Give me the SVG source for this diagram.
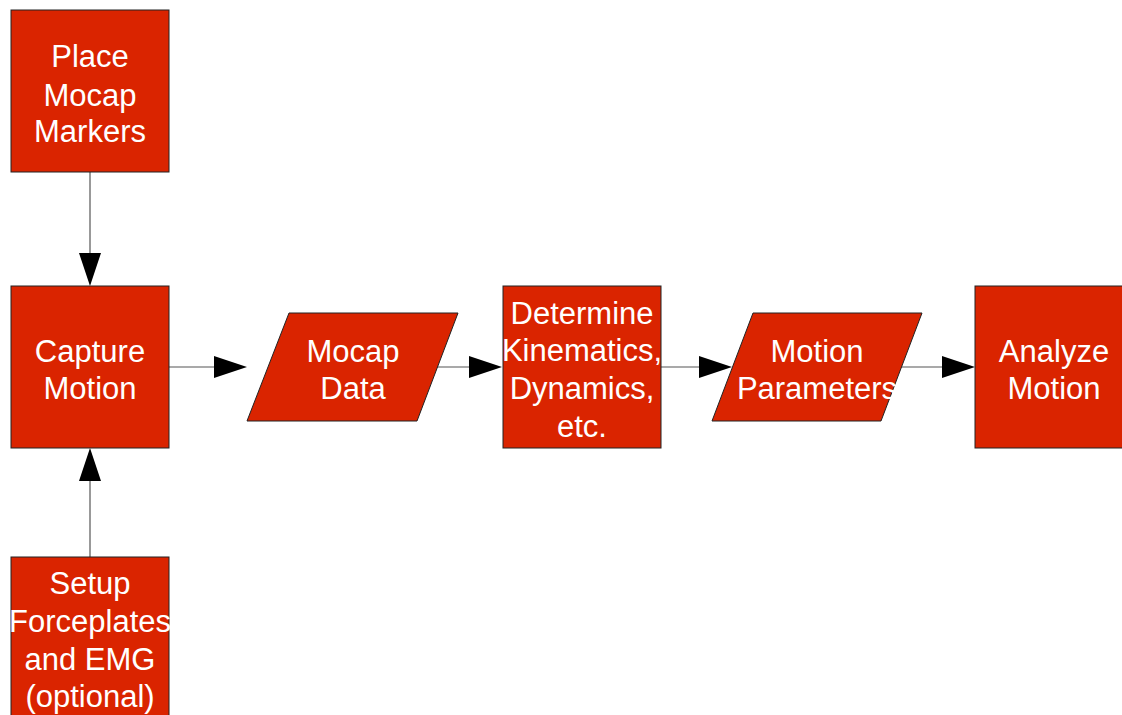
<svg xmlns="http://www.w3.org/2000/svg" width="1122" height="715" viewBox="0 0 1122 715">
<style>
.n{fill:#da2400;stroke:#222;stroke-width:1}
.t{fill:#fff;font-family:"Liberation Sans",Arial,sans-serif;font-size:31px;text-anchor:middle}
.c{stroke:#555;stroke-width:1.2;fill:none}
.h{fill:#000}
</style>
<rect width="1122" height="715" fill="#fff"/>
<g id="connectors">
<line class="c" x1="90" y1="172" x2="90" y2="254"/>
<polygon class="h" points="79,253 101,253 90,286"/>
<line class="c" x1="169" y1="367" x2="215" y2="367"/>
<polygon class="h" points="214,356 214,378 247,367"/>
<line class="c" x1="437" y1="367" x2="470" y2="367"/>
<polygon class="h" points="469,356 469,378 502,367"/>
<line class="c" x1="661" y1="367" x2="700" y2="367"/>
<polygon class="h" points="699,356 699,378 732,367"/>
<line class="c" x1="901" y1="367" x2="943" y2="367"/>
<polygon class="h" points="942,356 942,378 975,367"/>
<line class="c" x1="90" y1="557" x2="90" y2="480"/>
<polygon class="h" points="79,481 101,481 90,448"/>
</g>
<g id="place">
<rect class="n" x="11" y="10" width="158" height="162"/>
<text class="t"><tspan x="90" y="67">Place</tspan><tspan x="90" y="106">Mocap</tspan><tspan x="90" y="142">Markers</tspan></text>
</g>
<g id="capture">
<rect class="n" x="11" y="286" width="158" height="162"/>
<text class="t"><tspan x="90" y="362">Capture</tspan><tspan x="90" y="399">Motion</tspan></text>
</g>
<g id="setup">
<rect class="n" x="11" y="557" width="158" height="162"/>
<text class="t"><tspan x="90" y="594">Setup</tspan><tspan x="90" y="632">Forceplates</tspan><tspan x="90" y="670">and EMG</tspan><tspan x="90" y="707">(optional)</tspan></text>
</g>
<g id="mocapdata">
<polygon class="n" points="289,313 458,313 417,421 247,421"/>
<text class="t"><tspan x="353" y="362">Mocap</tspan><tspan x="353" y="399">Data</tspan></text>
</g>
<g id="determine">
<rect class="n" x="503" y="286" width="158" height="162"/>
<text class="t"><tspan x="582" y="324">Determine</tspan><tspan x="582" y="361">Kinematics,</tspan><tspan x="582" y="399">Dynamics,</tspan><tspan x="582" y="437">etc.</tspan></text>
</g>
<g id="motionparams">
<polygon class="n" points="753,313 922,313 881,421 712,421"/>
<text class="t"><tspan x="817" y="362">Motion</tspan><tspan x="817" y="399">Parameters</tspan></text>
</g>
<g id="analyze">
<rect class="n" x="975" y="286" width="158" height="162"/>
<text class="t"><tspan x="1054" y="362">Analyze</tspan><tspan x="1054" y="399">Motion</tspan></text>
</g>
</svg>
